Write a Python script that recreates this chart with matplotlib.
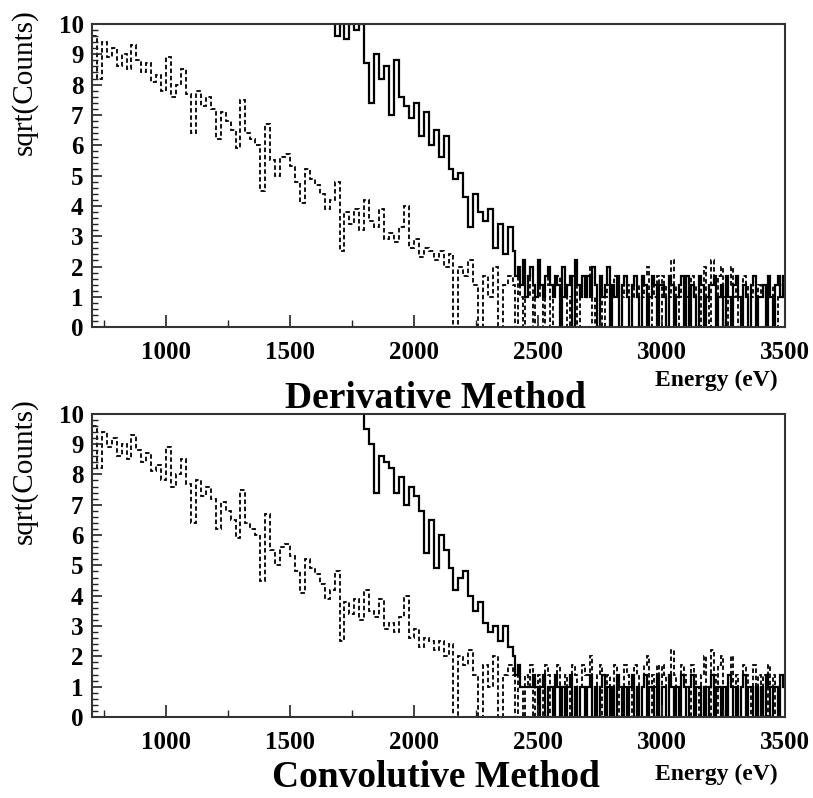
import numpy as np
import matplotlib.pyplot as plt
from matplotlib.ticker import MultipleLocator

# values are sqrt(counts); 20 eV bins up to 2400 eV, 10 eV bins in the tail
HEAD_BIN = 20
TAIL_BIN = 10
TAIL_START = 2400
E_MIN, E_MAX = 700, 3500

# reference spectrum (dashed), same in both panels
dashed_start = 700
dashed_head = [
    9.6, 8.2, 9.4, 8.9, 9.2,
    8.6, 9.0, 8.5, 9.3, 8.8,
    8.4, 8.7, 8.1, 8.3, 7.8,
    8.9, 7.6, 8.0, 8.5, 7.7,
    6.4, 7.8, 7.3, 7.6, 7.2,
    6.2, 7.1, 6.8, 6.5, 5.9,
    7.5, 6.4, 6.2, 6.0, 4.5,
    6.7, 5.5, 5.0, 5.6, 5.7,
    5.3, 4.8, 4.1, 5.2, 4.9,
    4.7, 4.4, 3.9, 4.2, 4.8,
    2.5, 3.8, 3.4, 3.9, 3.2,
    4.2, 3.5, 3.3, 3.9, 2.9,
    3.1, 2.8, 3.3, 4.0, 2.6,
    2.9, 2.3, 2.6, 2.5, 2.2,
    2.5, 2.0, 2.4, 0.0, 2.0,
    1.7, 2.2, 1.4, 0.0, 1.7,
    1.0, 2.0, 0.0, 1.4, 1.7,
]
dashed_tail = [
    1.4, 0.0, 1.7, 1.0, 0.0, 1.4, 1.0, 1.7, 0.0, 1.0,
    1.4, 1.0, 0.0, 1.7, 1.4, 0.0, 1.0, 1.4, 1.7, 0.0,
    1.0, 1.4, 0.0, 1.0, 1.7, 1.4, 0.0, 1.0, 1.7, 1.4,
    1.4, 2.0, 0.0, 1.0, 1.4, 1.7, 0.0, 1.0, 1.4, 0.0,
    1.0, 1.7, 1.4, 0.0, 1.0, 1.7, 1.4, 0.0, 1.0, 1.7,
    1.4, 0.0, 1.0, 1.7, 2.0, 0.0, 1.4, 1.0, 1.7, 0.0,
    1.7, 1.4, 0.0, 1.0, 2.2, 1.4, 0.0, 1.0, 1.7, 1.4,
    1.0, 0.0, 1.7, 1.4, 1.0, 0.0, 1.4, 2.0, 1.0, 0.0,
    2.2, 1.4, 0.0, 1.7, 2.0, 1.0, 0.0, 1.4, 2.0, 1.0,
    1.4, 0.0, 1.0, 1.7, 1.4, 0.0, 1.0, 1.7, 0.0, 1.4,
    1.0, 1.4, 0.0, 1.7, 1.0, 1.4, 0.0, 1.0, 1.4, 1.0,
]

# derivative method (solid); first bins lie above the frame
deriv_start = 1640
deriv_head = [
    10.6, 10.3, 9.6,
    10.0, 9.5, 10.0, 9.8, 10.0,
    8.7, 7.4, 9.0, 8.2, 8.6,
    7.0, 8.8, 7.6, 7.3, 6.9,
    7.4, 6.3, 7.1, 6.0, 6.5,
    5.6, 6.3, 5.2, 4.9, 5.1,
    4.3, 3.3, 4.4, 3.8, 3.5,
    3.9, 2.6, 3.4, 2.4, 3.3,
]
deriv_tail = [
    2.5, 1.7, 2.0, 1.4, 2.2, 1.0, 1.7, 2.0, 1.4, 1.0,
    2.2, 1.4, 1.0, 1.7, 2.0, 1.4, 1.0, 1.7, 1.4, 0.0,
    2.0, 1.0, 1.4, 1.7, 0.0, 2.2, 1.4, 1.0, 1.7, 1.0,
    1.7, 1.0, 2.0, 1.4, 0.0, 1.7, 1.0, 1.4, 2.0, 0.0,
    1.4, 1.0, 1.7, 0.0, 1.4, 1.7, 1.0, 0.0, 1.4, 1.7,
    1.0, 0.0, 1.7, 1.4, 0.0, 1.0, 1.7, 1.4, 0.0, 1.4,
    1.4, 1.0, 0.0, 1.7, 1.4, 0.0, 1.0, 1.4, 1.7, 0.0,
    1.7, 0.0, 1.4, 1.0, 0.0, 1.7, 1.4, 0.0, 1.0, 1.4,
    1.4, 1.7, 0.0, 1.0, 1.4, 0.0, 1.7, 1.0, 0.0, 1.4,
    1.7, 1.0, 0.0, 1.4, 1.0, 0.0, 1.4, 1.7, 0.0, 1.0,
    1.0, 1.4, 0.0, 1.7, 1.0, 0.0, 1.4, 1.7, 1.0, 1.7,
]

# convolutive method (solid)
conv_start = 1780
conv_head = [
    10.4,
    9.5, 9.0, 7.4, 8.6, 8.4,
    8.2, 7.4, 7.9, 7.0, 7.6,
    7.3, 6.8, 5.4, 6.5, 4.9,
    6.0, 5.5, 4.9, 4.2, 4.6,
    4.8, 4.0, 3.5, 3.8, 3.1,
    2.8, 3.0, 2.5, 3.0, 2.3,
]
conv_tail = [
    2.0, 1.4, 1.7, 1.0, 1.0, 1.0, 1.0, 1.0, 1.4, 1.0,
    0.0, 1.0, 1.4, 0.0, 1.0, 1.0, 0.0, 1.4, 1.0, 0.0,
    1.0, 0.0, 1.0, 1.4, 0.0, 1.0, 0.0, 1.0, 1.0, 0.0,
    1.0, 1.4, 0.0, 1.0, 0.0, 1.0, 1.4, 0.0, 1.0, 0.0,
    1.0, 0.0, 1.4, 1.0, 0.0, 1.0, 0.0, 1.0, 1.4, 0.0,
    1.0, 0.0, 1.0, 1.4, 0.0, 1.0, 1.0, 0.0, 1.4, 0.0,
    1.0, 1.0, 0.0, 1.4, 1.0, 0.0, 1.0, 0.0, 1.4, 1.0,
    0.0, 1.0, 1.4, 0.0, 1.0, 1.0, 0.0, 1.0, 0.0, 1.0,
    1.4, 0.0, 1.0, 1.0, 0.0, 1.0, 0.0, 1.4, 1.0, 0.0,
    1.0, 0.0, 1.0, 1.4, 0.0, 1.0, 1.0, 0.0, 1.0, 0.0,
    1.0, 0.0, 1.4, 1.0, 0.0, 1.0, 1.0, 0.0, 1.4, 1.0,
]

panels = [
    ("Derivative Method", deriv_start, deriv_head, deriv_tail),
    ("Convolutive Method", conv_start, conv_head, conv_tail),
]

plt.rcParams['font.family'] = ['Liberation Serif', 'DejaVu Serif']


def hist_edges(start, head, tail):
    head_edges = start + HEAD_BIN * np.arange(len(head) + 1)
    tail_edges = TAIL_START + TAIL_BIN * np.arange(1, len(tail) + 1)
    return np.concatenate([head_edges, tail_edges])


fig = plt.figure(figsize=(8.13, 7.98), dpi=100)
# axes rect, title baseline, "Energy (eV)" centre (axes fractions)
layout = [
    ([0.113, 0.590, 0.853, 0.380], -0.268, -0.175),
    ([0.113, 0.1015, 0.853, 0.380], -0.230, -0.190),
]

for (rect, title_y, energy_y), (title, start, head, tail) in zip(layout, panels):
    ax = fig.add_axes(rect)
    ax.stairs(dashed_head + dashed_tail,
              hist_edges(dashed_start, dashed_head, dashed_tail),
              baseline=None, color='black', lw=1.3, linestyle=(0, (2.5, 1.5)))
    ax.stairs(head + tail, hist_edges(start, head, tail), baseline=None,
              color='black', lw=1.6)

    ax.set_xlim(E_MIN, E_MAX)
    ax.set_ylim(0, 10)
    ax.xaxis.set_major_locator(MultipleLocator(500))
    ax.xaxis.set_minor_locator(MultipleLocator(250))
    ax.yaxis.set_major_locator(MultipleLocator(1))
    ax.yaxis.set_minor_locator(MultipleLocator(0.2))
    ax.tick_params(which='both', direction='in', top=False, right=False,
                   colors='#222222')
    ax.tick_params(which='major', length=9, width=1.2)
    ax.tick_params(which='minor', length=5, width=1.0)
    ax.tick_params(axis='y', which='major', length=7)
    ax.tick_params(axis='y', which='minor', length=4)
    ax.tick_params(axis='x', pad=10)
    ax.tick_params(axis='y', pad=6)
    for lab in ax.get_xticklabels() + ax.get_yticklabels():
        lab.set_fontweight('bold')
        lab.set_fontsize(18)
        lab.set_color('black')
    for sp in ax.spines.values():
        sp.set_linewidth(1.5)
        sp.set_color('#333333')

    ax.text(-0.098, 1.05, 'sqrt(Counts)', transform=ax.transAxes,
            rotation=90, ha='center', va='top', fontsize=21)

    # titles sit below the axis, "Energy (eV)" at the right
    ax.text(0.496, title_y, title, transform=ax.transAxes,
            ha='center', va='baseline', fontsize=27, fontweight='bold')
    ax.text(0.90, energy_y, 'Energy (eV)', transform=ax.transAxes,
            ha='center', va='center', fontsize=17, fontweight='bold')

plt.savefig('out.png', dpi=100)
